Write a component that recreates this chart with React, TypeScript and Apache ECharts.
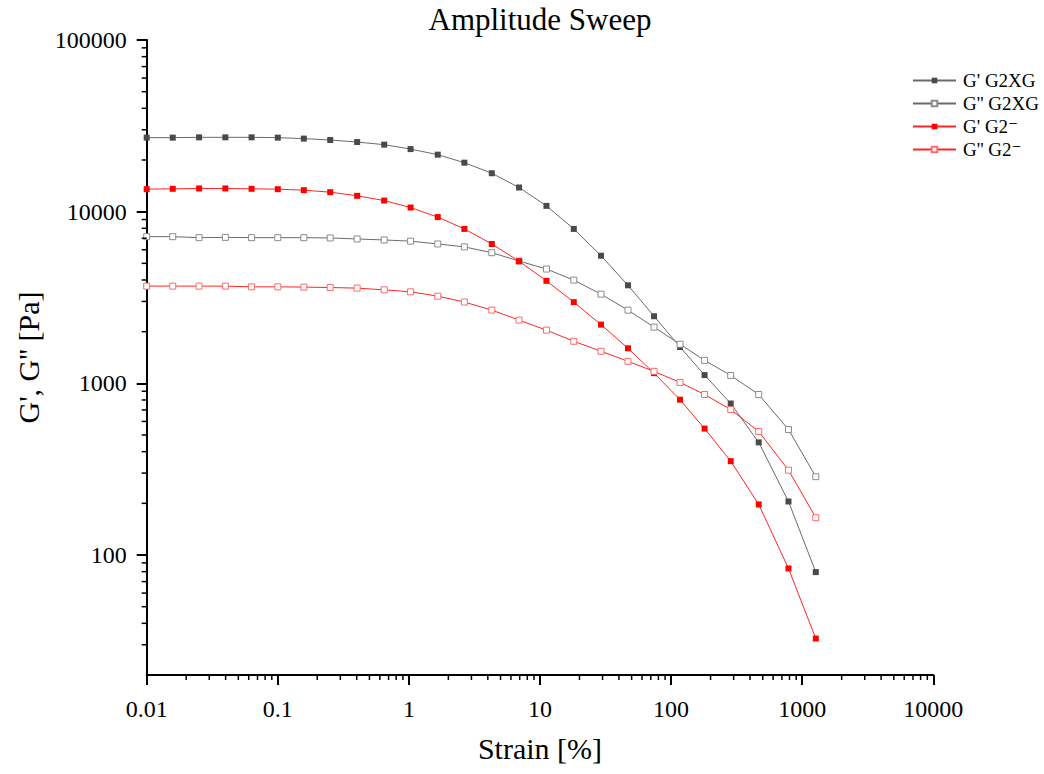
import React, { useEffect, useRef } from "react";
import * as echarts from "echarts";

// Strain [%] (x values)
const strain = [
  0.01, 0.0158, 0.0251, 0.0398, 0.0631, 0.1, 0.158, 0.251, 0.403, 0.648,
  1.03, 1.66, 2.65, 4.29, 6.92, 11.2, 18.1, 29.2, 46.9, 74.1,
  117, 180, 285, 466, 786, 1270,
];

// G' G2XG [Pa]
const gStorageG2XG = [
  26990, 26990, 27100, 27100, 27100, 26990, 26640, 26150, 25440, 24570,
  23150, 21480, 19290, 16740, 13830, 10810, 7934, 5538, 3724, 2460,
  1628, 1117, 763, 453, 205, 79.5,
];

// G'' G2XG [Pa]
const gLossG2XG = [
  7152, 7152, 7056, 7085, 7056, 7056, 7056, 7028, 6934, 6842,
  6733, 6483, 6235, 5768, 5157, 4632, 3994, 3308, 2668, 2125,
  1690, 1361, 1112, 861, 538, 286,
];

// G' G2⁻ [Pa]
const gStorageG2 = [
  13520, 13590, 13650, 13650, 13590, 13520, 13340, 12990, 12370, 11610,
  10570, 9299, 7934, 6483, 5144, 3956, 2971, 2198, 1600, 1147,
  803, 545, 352, 197, 83.5, 32.6,
];

// G'' G2⁻ [Pa]
const gLossG2 = [
  3684, 3684, 3684, 3684, 3649, 3649, 3635, 3616, 3586, 3505,
  3412, 3220, 2975, 2672, 2335, 2041, 1758, 1538, 1343, 1175,
  1012, 861, 704, 524, 312, 165,
];

const seriesNames = ["G' G2XG", "G'' G2XG", "G' G2\u207B", "G'' G2\u207B"];

const xMajorTicks = [0.01, 0.1, 1, 10, 100, 1000, 10000];
const yMajorTicks = [100, 1000, 10000, 100000];
const minorMultipliers = [2, 3, 4, 5, 6, 7, 8, 9];
const xDecades = [0.01, 0.1, 1, 10, 100, 1000];
const yDecades = [10, 100, 1000, 10000];

const X_MIN = 0.01;
const X_MAX = 10000;
const Y_MIN = 20;
const Y_MAX = 100000;

const FONT = "'Liberation Serif', 'DejaVu Serif', serif";

function buildMinor(decades: number[], lo: number, hi: number) {
  const out: number[] = [];
  decades.forEach((d) =>
    minorMultipliers.forEach((m) => {
      const v = Number((d * m).toPrecision(6));
      if (v > lo && v < hi) out.push(v);
    })
  );
  return out;
}

function fmt(v: number) {
  if (v >= 1) return String(Math.round(v));
  return String(Number(v.toPrecision(3)));
}

export default function App() {
  const ref = useRef<HTMLDivElement>(null);

  useEffect(() => {
    document.body.style.margin = "0";
    const chart = echarts.init(ref.current!, null, { renderer: "svg" });

    const xMinor = buildMinor(xDecades, X_MIN, X_MAX);
    const yMinor = buildMinor(yDecades, Y_MIN, Y_MAX);

    const toPairs = (arr: number[]) => strain.map((x, i) => [x, arr[i]]);

    const grayLine = "#6b6b6b";
    const redLine = "#ff2424";

    const mkSeries = (
      name: string,
      data: number[],
      lineColor: string,
      item: any
    ) => ({
      name,
      type: "line",
      data: toPairs(data),
      symbol: "rect",
      symbolSize: 6,
      showAllSymbol: true,
      smooth: false,
      lineStyle: { color: lineColor, width: 1 },
      itemStyle: item,
      emphasis: { disabled: true },
      z: 3,
    });

    const MINOR_LEN = 5;

    chart.setOption({
      animation: false,
      backgroundColor: "#ffffff",
      tooltip: { show: false },
      graphic: [
        {
          type: "text",
          x: 540,
          y: 4,
          style: {
            text: "Amplitude Sweep",
            fontSize: 31,
            fontFamily: FONT,
            fill: "#000",
            align: "center",
            verticalAlign: "top",
          },
        },
      ],
      grid: { left: 146.7, top: 40, right: 110.7, bottom: 99, containLabel: false },
      legend: {
        orient: "vertical",
        left: 912,
        top: 71,
        padding: 0,
        itemWidth: 43,
        itemHeight: 7,
        itemGap: 4,
        textStyle: { fontSize: 19, fontFamily: FONT, color: "#000", padding: [0, 0, 0, 2] },
        data: seriesNames,
      },
      xAxis: {
        type: "log",
        logBase: 10,
        min: X_MIN,
        max: X_MAX,
        position: "bottom",
        axisLine: { show: true, onZero: false, lineStyle: { color: "#000", width: 2 } },
        axisTick: {
          show: true,
          inside: false,
          length: 10,
          lineStyle: { color: "#000", width: 2 },
          customValues: xMajorTicks,
        },
        axisLabel: {
          customValues: xMajorTicks,
          formatter: (v: number) => fmt(v),
          fontSize: 24,
          fontFamily: FONT,
          color: "#000",
          margin: 22,
        },
        splitLine: { show: false },
        minorTick: { show: false },
        name: "Strain [%]",
        nameLocation: "middle",
        nameGap: 58,
        nameTextStyle: { fontSize: 30, fontFamily: FONT, color: "#000" },
      },
      yAxis: {
        type: "log",
        logBase: 10,
        min: Y_MIN,
        max: Y_MAX,
        position: "left",
        axisLine: { show: true, onZero: false, lineStyle: { color: "#000", width: 2 } },
        axisTick: {
          show: true,
          inside: false,
          length: 10,
          lineStyle: { color: "#000", width: 2 },
          customValues: yMajorTicks,
        },
        axisLabel: {
          customValues: yMajorTicks,
          formatter: (v: number) => fmt(v),
          fontSize: 24,
          fontFamily: FONT,
          color: "#000",
          margin: 20,
        },
        splitLine: { show: false },
        minorTick: { show: false },
        name: "G', G'' [Pa]",
        nameLocation: "middle",
        nameGap: 100,
        nameTextStyle: { fontSize: 30, fontFamily: FONT, color: "#000" },
      },
      series: [
        mkSeries(seriesNames[0], gStorageG2XG, grayLine, { color: "#4a4a4a" }),
        mkSeries(seriesNames[1], gLossG2XG, grayLine, {
          color: "#ffffff",
          borderColor: "#8c8c8c",
          borderWidth: 1,
        }),
        mkSeries(seriesNames[2], gStorageG2, redLine, { color: "#ff0000" }),
        mkSeries(seriesNames[3], gLossG2, redLine, {
          color: "#ffffff",
          borderColor: "#ff6b6b",
          borderWidth: 1,
        }),
        {
          // minor (log 2..9) ticks on the x axis, placed through the axis scale
          name: "_xMinorTicks",
          type: "custom",
          silent: true,
          clip: false,
          z: 10,
          data: xMinor.map((v) => [v, Y_MIN]),
          renderItem: (_params: any, api: any) => {
            const p = api.coord([api.value(0), api.value(1)]);
            return {
              type: "line",
              shape: { x1: p[0], y1: p[1], x2: p[0], y2: p[1] + MINOR_LEN },
              style: { stroke: "#000", lineWidth: 1.5 },
            };
          },
        },
        {
          // minor (log 2..9) ticks on the y axis
          name: "_yMinorTicks",
          type: "custom",
          silent: true,
          clip: false,
          z: 10,
          data: yMinor.map((v) => [X_MIN, v]),
          renderItem: (_params: any, api: any) => {
            const p = api.coord([api.value(0), api.value(1)]);
            return {
              type: "line",
              shape: { x1: p[0], y1: p[1], x2: p[0] - MINOR_LEN, y2: p[1] },
              style: { stroke: "#000", lineWidth: 1.5 },
            };
          },
        },
      ],
    });

    return () => chart.dispose();
  }, []);

  return <div ref={ref} style={{ width: 1044, height: 774 }} />;
}
